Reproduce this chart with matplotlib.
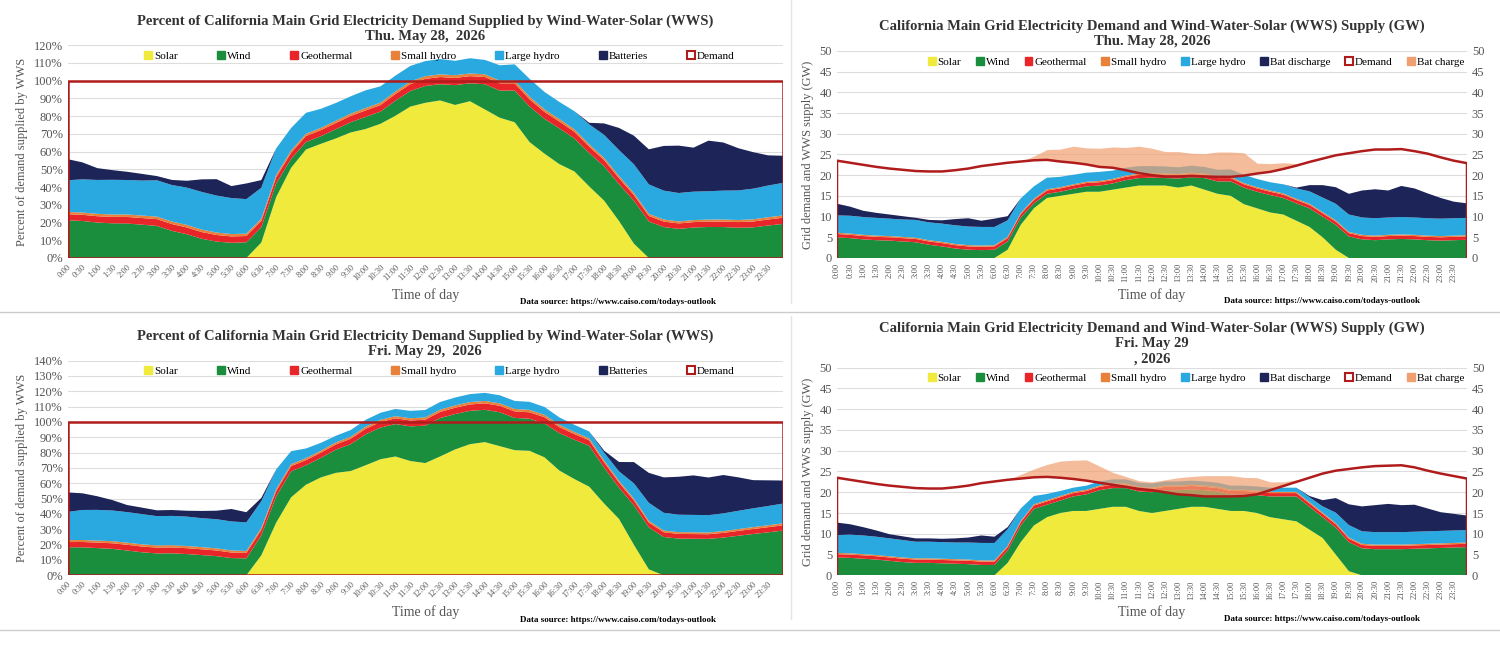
import numpy as np
import matplotlib
matplotlib.use("Agg")
import matplotlib.pyplot as plt
from matplotlib.patches import Rectangle, Patch

plt.rcParams['font.family'] = ['Liberation Serif', 'DejaVu Serif']

# half-hourly values, 0:00 ... 24:00 (49 points), GW
times = ["%d:%02d" % (h, m) for h in range(24) for m in (0, 30)]

# ---- Thu. May 28 ----
solar1 = [0]*13 + [2, 8, 12, 14.5, 15, 15.5, 16, 16, 16.5, 17, 17.5, 17.5, 17.5, 17, 17.5,
                   16.5, 15.5, 15, 13, 12, 11, 10.5, 9, 7.5, 5, 2, 0] + [0]*9
wind1 = [5, 4.8, 4.5, 4.3, 4.2, 4, 3.8, 3.2, 2.8, 2.3, 2, 1.9, 2, 2, 1.8, 1.2, 1, 1, 1.2, 1.3,
         1.5, 1.5, 1.8, 1.8, 1.9, 1.8, 2.2, 2, 2.8, 3, 3.5, 4, 4, 4.2, 4, 4.2, 4.5, 5, 6, 5.2,
         4.5, 4.3, 4.5, 4.6, 4.5, 4.3, 4.2, 4.3, 4.4]
geo1 = [0.8]*49
shydro1 = [0.3]*49
lhydro1 = [4.2, 4.3, 4.3, 4.3, 4.2, 4.2, 4.3, 4.3, 4.4, 4.5, 4.5, 4.5, 4.4, 4, 3.5, 3, 2.8, 2.5,
           2.3, 2.2, 2.2, 2.0, 1.9, 1.8, 1.7, 1.7, 1.6, 1.7, 1.6, 1.7, 1.8, 2, 2, 2, 2.2, 2.5,
           3, 3.5, 4, 4.2, 4.2, 4.2, 4.2, 4.2, 4.2, 4.2, 4.2, 4.2, 4.2]
bat1 = [2.8, 2.2, 1.5, 1.2, 1, 0.8, 0.5, 0.6, 0.8, 1.5, 2, 1.5, 2, 1, 0] + [0]*20 + \
       [0.2, 1.5, 3, 4, 5, 6.5, 7, 6.5, 7.5, 7, 6, 5, 4, 3.5]
demand1 = [23.5, 23, 22.5, 22, 21.6, 21.3, 21, 20.9, 20.9, 21.2, 21.6, 22.2, 22.6, 23, 23.3,
           23.6, 23.7, 23.3, 23, 22.6, 22, 21.8, 21.2, 20.5, 20, 19.7, 19.7, 19.8, 19.7, 19.6,
           19.6, 19.9, 20.4, 20.8, 21.5, 22.3, 23.2, 24, 24.8, 25.3, 25.8, 26.2, 26.2, 26.3,
           25.8, 25.2, 24.3, 23.5, 22.9]
charge1 = [0]*15 + [1, 2.5, 3, 4, 4, 4.5, 5, 5.5, 6.5, 6.5, 6, 6, 5.5, 5.5, 6, 6, 5.5, 2.5, 2,
                    1.5, 0.5] + [0]*13

# ---- Fri. May 29 ----
solar2 = [0]*13 + [3, 8, 12, 14, 15, 15.5, 15.5, 16, 16.5, 16.5, 15.5, 15, 15.5, 16, 16.5, 16.5,
                   16, 15.5, 15.5, 15, 14, 13.5, 13, 11, 9, 5, 1] + [0]*9
wind2 = [4.3, 4.2, 4, 3.8, 3.5, 3.2, 3, 3, 2.9, 2.8, 2.7, 2.5, 2.5, 3, 4, 4, 3, 3, 3.5, 4, 4.5,
         4.5, 4.5, 4.7, 5, 5, 4.5, 4.2, 4, 4.2, 4, 4, 4.3, 5, 5.5, 6, 5.5, 5, 6.5, 7, 6.5, 6.3,
         6.3, 6.3, 6.4, 6.5, 6.6, 6.7, 6.8]
geo2 = [0.8]*49
shydro2 = [0.3]*49
lhydro2 = [4.3, 4.5, 4.5, 4.4, 4.3, 4.2, 4, 4, 4, 4, 4.1, 4.2, 4.2, 4, 3, 2, 1.5, 1.2, 1, 1, 1,
           1, 1, 1, 1, 1, 1, 1, 1, 1, 1, 1, 1, 1, 1, 1, 1.2, 1.5, 2.5, 3, 3, 3, 3, 3, 3, 3, 3,
           3, 3]
bat2 = [3, 2.5, 2, 1.5, 1, 0.9, 0.8, 0.8, 0.8, 1, 1.2, 1.8, 1.5, 0.5, 0] + [0]*21 + \
       [0.3, 1.5, 3.5, 5, 6, 6.5, 6.8, 6.5, 6.5, 5.5, 4.5, 4, 3.5]
demand2 = [23.5, 23, 22.5, 22, 21.6, 21.3, 21, 20.9, 20.9, 21.2, 21.6, 22.2, 22.6, 23, 23.3,
           23.6, 23.7, 23.5, 23.2, 22.8, 22.3, 21.8, 21.3, 20.8, 20.5, 20, 19.5, 19.3, 19,
           19, 19, 19.1, 19.5, 20.5, 21.5, 22.5, 23.5, 24.5, 25.2, 25.6, 26, 26.3, 26.4, 26.5,
           26, 25.2, 24.5, 23.9, 23.3]
charge2 = [0]*14 + [1, 2, 3, 4, 4.5, 5, 4, 3, 2.5, 2, 2, 3, 4, 4.5, 5, 5, 5, 4.5, 4, 2, 1, 0.5] + [0]*13

names_pct = ["Solar", "Wind", "Geothermal", "Small hydro", "Large hydro", "Batteries"]
names_gw = ["Solar", "Wind", "Geothermal", "Small hydro", "Large hydro", "Bat discharge"]
colors = ["#f0ea3c", "#1b8e3e", "#e8262a", "#e8823a", "#2aa8e0", "#1c2458"]
dem_color = "#b01c1c"
charge_color = "#f0a070"

x = np.arange(49)
grey = "#555555"


def style(ax, ymax, step, fmt, rot):
    ax.set_xlim(0, 48)
    ax.set_ylim(0, ymax)
    ax.set_yticks(np.arange(0, ymax + 0.1, step))
    ax.set_yticklabels([fmt % v for v in np.arange(0, ymax + 0.1, step)], fontsize=9, color=grey)
    ax.set_xticks(np.arange(48))
    ax.set_xticklabels(times, fontsize=6, color=grey, rotation=rot,
                       ha='right' if rot < 90 else 'center', rotation_mode='anchor' if rot < 90 else 'default')
    ax.grid(axis='y', color='#dddddd', lw=0.8)
    ax.set_axisbelow(True)
    for s in ax.spines.values():
        s.set_visible(False)
    ax.tick_params(length=0)
    ax.set_xlabel("Time of day", fontsize=10, color=grey)
    ax.text(0.77, -0.19, "Data source: https://www.caiso.com/todays-outlook", transform=ax.transAxes,
            fontsize=6.5, ha='center', va='top', fontweight='bold')


def legend_handles(names):
    h = [Patch(color=c, label=n) for c, n in zip(colors, names)]
    h.append(Patch(facecolor='white', edgecolor=dem_color, lw=1.5, label="Demand"))
    return h


def pct_panel(ax, series, demand, title, ymax):
    dem = np.array(demand)
    pct = [np.array(s) / dem * 100 for s in series]
    ax.stackplot(x, *pct, colors=colors, lw=0)
    ax.add_patch(Rectangle((0, 0), 48, 100, fill=False, ec=dem_color, lw=1.8))
    style(ax, ymax, 10, "%d%%", 45)
    ax.set_ylabel("Percent of demand supplied by WWS", fontsize=9, color=grey)
    ax.set_title(title, fontsize=10.5, fontweight='bold', color='#333333', pad=4)
    ax.legend(handles=legend_handles(names_pct), loc='upper center', ncol=7, frameon=False,
              fontsize=8, handlelength=0.7, handleheight=0.7, columnspacing=3.5,
              handletextpad=0.2, bbox_to_anchor=(0.52, 1.02))


def gw_panel(ax, series, demand, charge, title):
    dem = np.array(demand)
    ax.stackplot(x, *series, colors=colors, lw=0)
    ax.plot(np.r_[0, x, 48], np.r_[0, dem, 0], color=dem_color, lw=1.8)
    ax.fill_between(x, dem, dem + np.array(charge), where=np.array(charge) > 0,
                    color=charge_color, alpha=0.7, lw=0, interpolate=True)
    style(ax, 50, 5, "%d", 90)
    ax.set_ylabel("Grid demand and WWS supply (GW)", fontsize=9, color=grey)
    ax.set_title(title, fontsize=10.5, fontweight='bold', color='#333333', pad=4)
    t = ax.secondary_yaxis('right')
    t.set_yticks(np.arange(0, 51, 5))
    t.tick_params(length=0, labelsize=9, labelcolor=grey)
    t.spines['right'].set_visible(False)
    h = legend_handles(names_gw)
    h.append(Patch(color=charge_color, label="Bat charge"))
    ax.legend(handles=h, loc='upper center', ncol=8, frameon=False, fontsize=8, handlelength=0.7,
              handleheight=0.7, columnspacing=1.3, handletextpad=0.2, bbox_to_anchor=(0.57, 1.02))


fig = plt.figure(figsize=(15, 6.45), dpi=100)
ax1 = fig.add_axes([0.045, 0.600, 0.477, 0.330])
ax2 = fig.add_axes([0.558, 0.600, 0.420, 0.321])
ax3 = fig.add_axes([0.045, 0.108, 0.477, 0.333])
ax4 = fig.add_axes([0.558, 0.108, 0.420, 0.322])

pct_panel(ax1, [solar1, wind1, geo1, shydro1, lhydro1, bat1], demand1,
          "Percent of California Main Grid Electricity Demand Supplied by Wind-Water-Solar (WWS)\nThu. May 28,  2026", 120)
gw_panel(ax2, [solar1, wind1, geo1, shydro1, lhydro1, bat1], demand1, charge1,
         "California Main Grid Electricity Demand and Wind-Water-Solar (WWS) Supply (GW)\nThu. May 28, 2026")
pct_panel(ax3, [solar2, wind2, geo2, shydro2, lhydro2, bat2], demand2,
          "Percent of California Main Grid Electricity Demand Supplied by Wind-Water-Solar (WWS)\nFri. May 29,  2026", 140)
gw_panel(ax4, [solar2, wind2, geo2, shydro2, lhydro2, bat2], demand2, charge2,
         "California Main Grid Electricity Demand and Wind-Water-Solar (WWS) Supply (GW)\nFri. May 29\n, 2026")

for yy in (0.516, 0.024):
    fig.add_artist(plt.Line2D([0, 1], [yy, yy], color='#cccccc', lw=1))
fig.add_artist(plt.Line2D([0.527, 0.527], [0.53, 1], color='#e5e5e5', lw=1))
fig.add_artist(plt.Line2D([0.527, 0.527], [0.04, 0.51], color='#e5e5e5', lw=1))

fig.savefig("out.png", dpi=100)
